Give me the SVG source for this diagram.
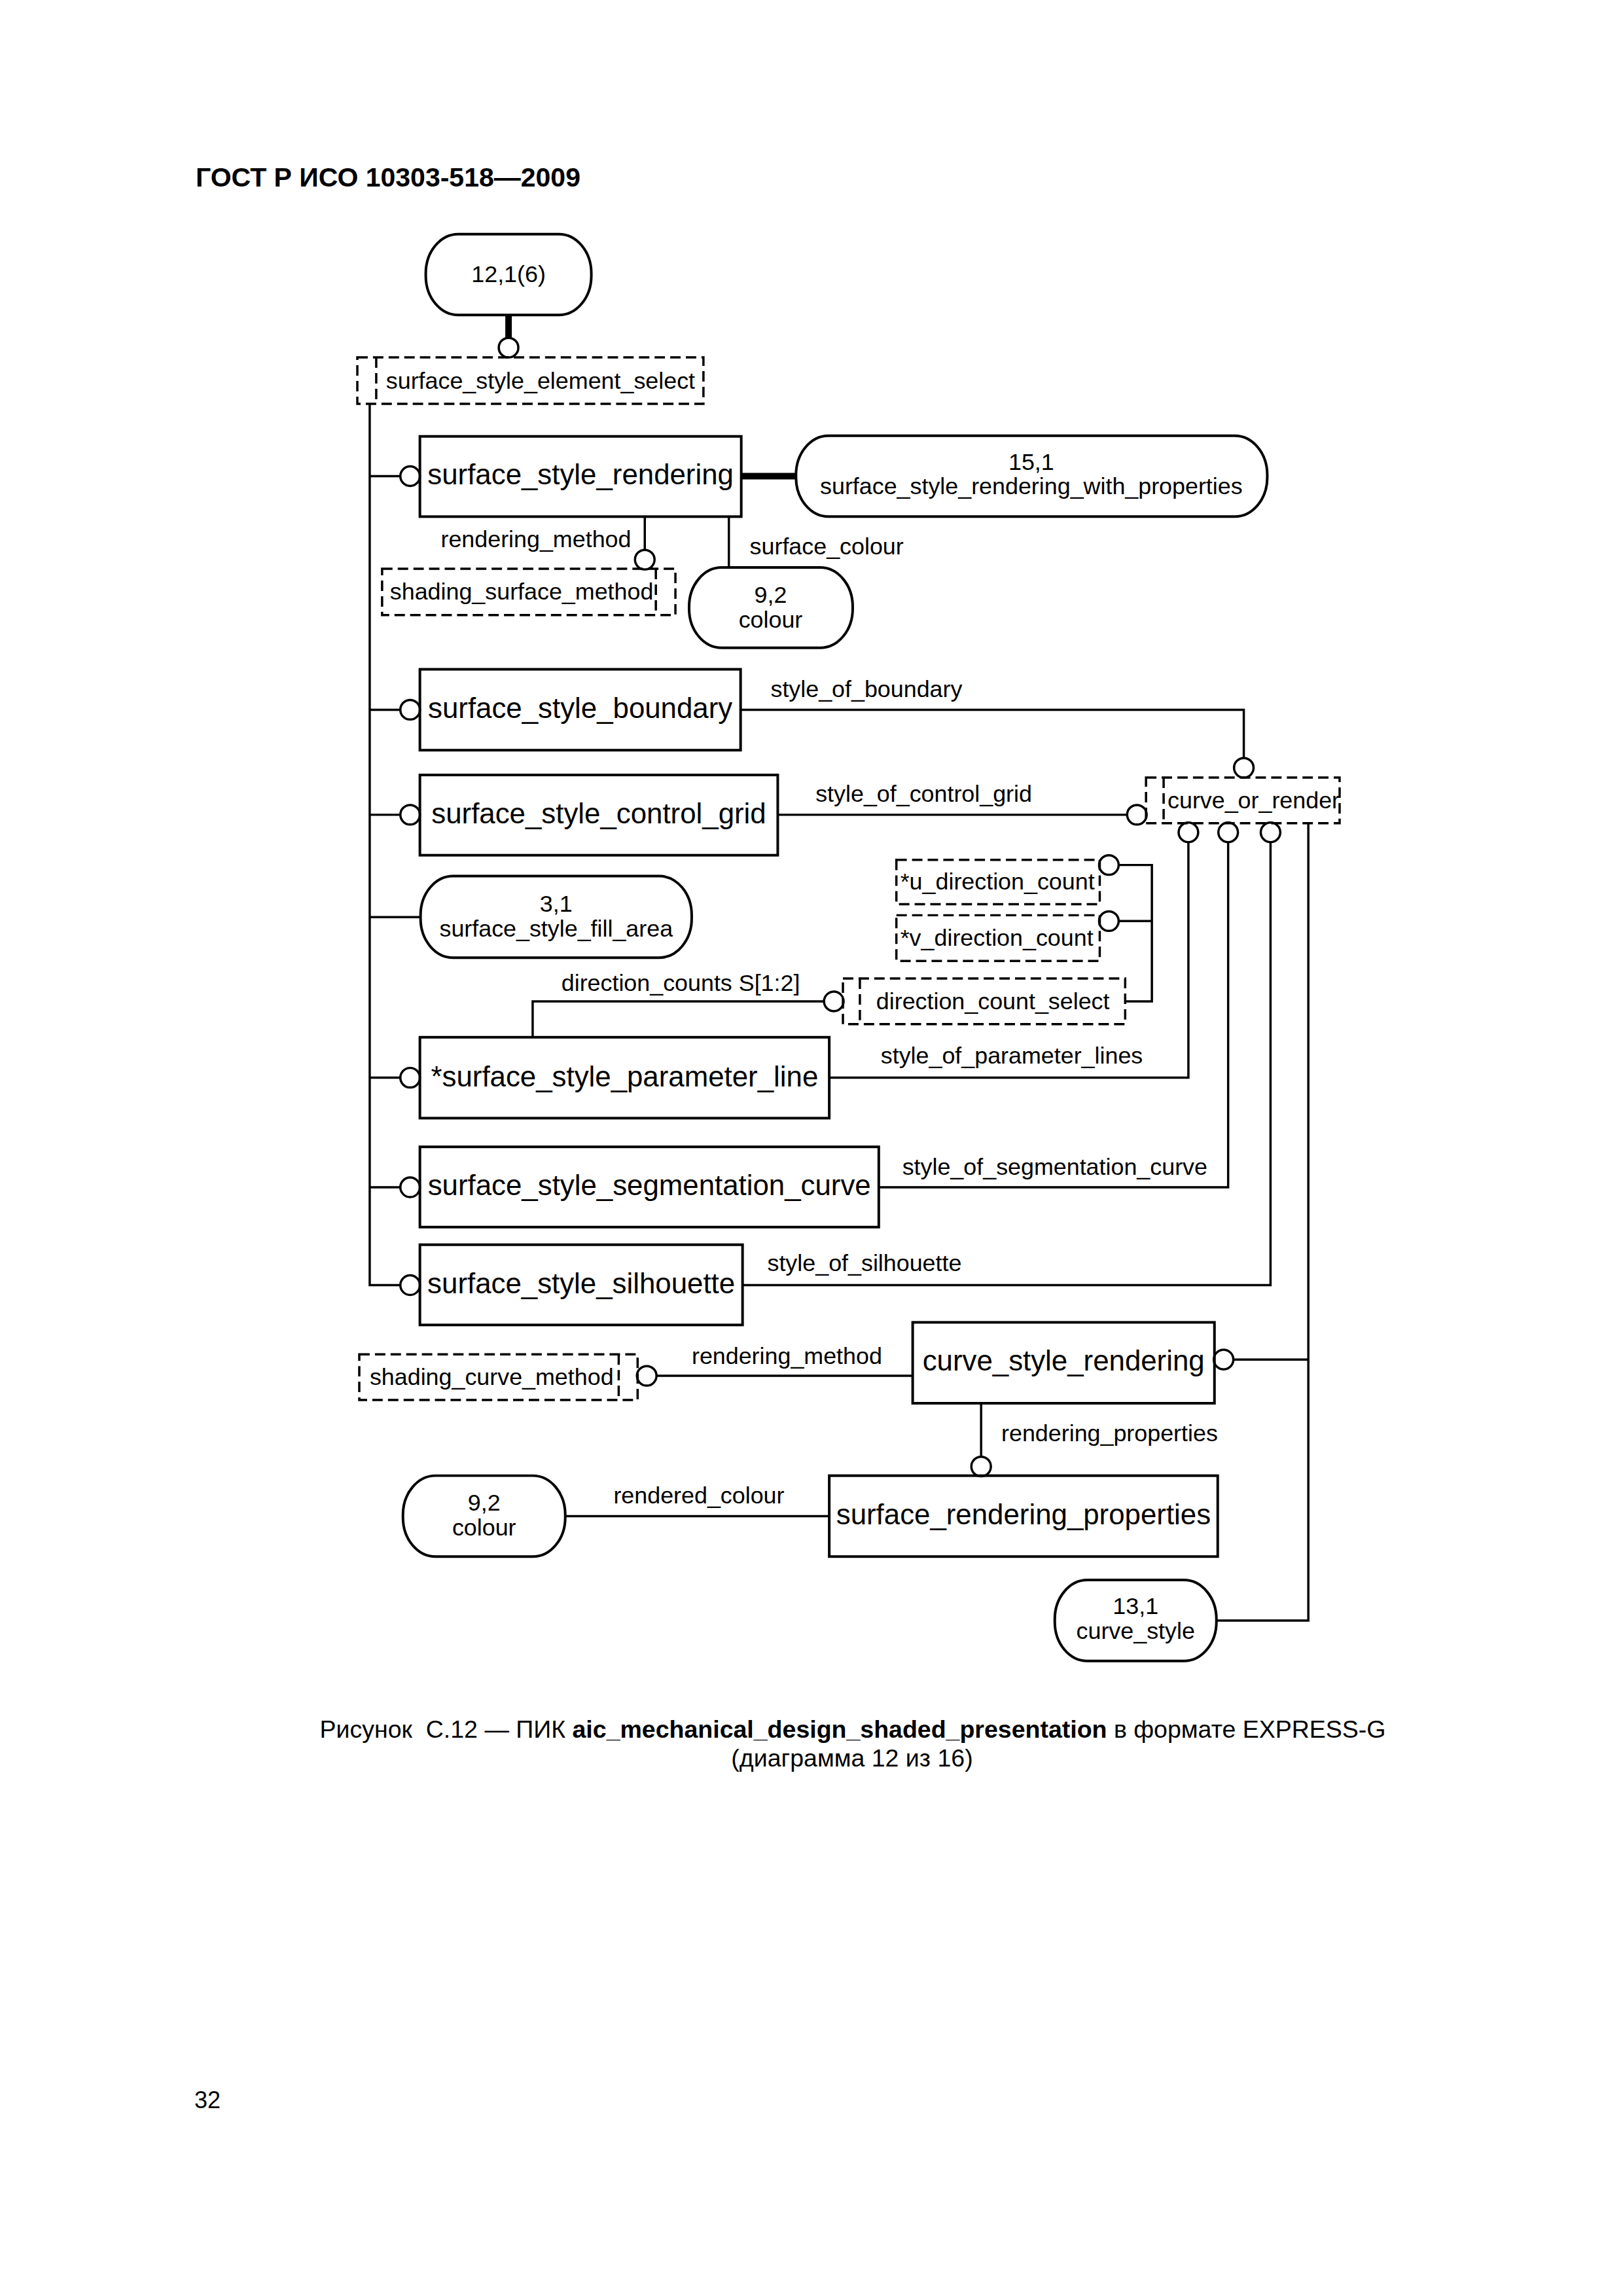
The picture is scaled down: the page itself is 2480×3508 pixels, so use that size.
<svg xmlns="http://www.w3.org/2000/svg" width="2480" height="3508" viewBox="0 0 2480 3508">
<style>
.box{fill:none;stroke:#000;stroke-width:4}
.ref{fill:none;stroke:#000;stroke-width:4}
.sel{fill:none;stroke:#000;stroke-width:3.5;stroke-dasharray:16 8}
.ln{fill:none;stroke:#000;stroke-width:3.5}
.thick{fill:none;stroke:#000;stroke-width:10}
.circ{fill:#fff;stroke:#000;stroke-width:3.5}
.ent{font-family:"Liberation Sans",Arial,sans-serif;font-size:44px;text-anchor:middle}
.lbl{font-family:"Liberation Sans",Arial,sans-serif;font-size:36px}
.cap{font-family:"Liberation Sans",Arial,sans-serif;font-size:37.5px;text-anchor:middle}
.mid{text-anchor:middle}
</style>
<rect width="2480" height="3508" fill="#fff"/>
<text x="299" y="285" font-family="Liberation Sans, Arial, sans-serif" font-size="41" font-weight="bold">ГОСТ Р ИСО 10303-518—2009</text>

<g id="diagram" transform="translate(299 270) scale(0.996 0.9968) translate(-299 -270)">
<g id="connectors">
<path class="thick" d="M779,482 V517"/>
<path class="ln" d="M566,618 V1969 H613"/>
<path class="ln" d="M566,729 H613 M566,1087 H613 M566,1248 H613 M566,1405 H644 M566,1651 H613 M566,1819 H613"/>
<path class="thick" d="M1136,729 H1220"/>
<path class="ln" d="M988,791 V842"/>
<path class="ln" d="M1117,791 V869"/>
<path class="ln" d="M1135,1087 H1907 V1161"/>
<path class="ln" d="M1192,1248 H1729"/>
<path class="ln" d="M1822,1290 V1651 H1271"/>
<path class="ln" d="M1883,1290 V1819 H1347"/>
<path class="ln" d="M1948,1290 V1969 H1138"/>
<path class="ln" d="M2006,1261 V2483 H1865"/>
<path class="ln" d="M2006,2083 H1891"/>
<path class="ln" d="M1715,1325 H1766 V1534 H1725 M1715,1411 H1766"/>
<path class="ln" d="M1263,1534 H816 V1589"/>
<path class="ln" d="M1006,2108 H1399"/>
<path class="ln" d="M1504,2150 V2232"/>
<path class="ln" d="M866,2323 H1271"/>
<circle class="circ" cx="779" cy="532" r="15"/>
<circle class="circ" cx="628" cy="729" r="15"/>
<circle class="circ" cx="628" cy="1087" r="15"/>
<circle class="circ" cx="628" cy="1248" r="15"/>
<circle class="circ" cx="628" cy="1651" r="15"/>
<circle class="circ" cx="628" cy="1819" r="15"/>
<circle class="circ" cx="628" cy="1969" r="15"/>
<circle class="circ" cx="988" cy="857" r="15"/>
<circle class="circ" cx="1907" cy="1176" r="15"/>
<circle class="circ" cx="1743" cy="1248" r="15"/>
<circle class="circ" cx="1822" cy="1275" r="15"/>
<circle class="circ" cx="1883" cy="1275" r="15"/>
<circle class="circ" cx="1948" cy="1275" r="15"/>
<circle class="circ" cx="1700" cy="1325" r="15"/>
<circle class="circ" cx="1700" cy="1411" r="15"/>
<circle class="circ" cx="1278" cy="1534" r="15"/>
<circle class="circ" cx="1876" cy="2083" r="15"/>
<circle class="circ" cx="991" cy="2108" r="15"/>
<circle class="circ" cx="1504" cy="2247" r="15"/>
<text class="lbl" x="675" y="838">rendering_method</text>
<text class="lbl" x="1149" y="849">surface_colour</text>
<text class="lbl" x="1181" y="1068">style_of_boundary</text>
<text class="lbl" x="1250" y="1228">style_of_control_grid</text>
<text class="lbl" x="860" y="1518">direction_counts S[1:2]</text>
<text class="lbl" x="1350" y="1629">style_of_parameter_lines</text>
<text class="lbl" x="1383" y="1800">style_of_segmentation_curve</text>
<text class="lbl" x="1176" y="1947">style_of_silhouette</text>
<text class="lbl" x="1060" y="2090">rendering_method</text>
<text class="lbl" x="1535" y="2208">rendering_properties</text>
<text class="lbl" x="940" y="2304">rendered_colour</text>
</g>

<g id="ref_12_1_6">
<rect class="ref" x="652" y="358" width="254" height="124" rx="50" ry="60"/>
<text class="lbl mid" x="779" y="432">12,1(6)</text>
</g>
<g id="surface_style_element_select">
<rect class="sel" x="547" y="547" width="531" height="71"/>
<line class="sel" x1="576" y1="547" x2="576" y2="618"/>
<text class="lbl" x="591" y="595">surface_style_element_select</text>
</g>
<g id="surface_style_rendering">
<rect class="box" x="643" y="668" width="493" height="123"/>
<text class="ent" x="889.5" y="742">surface_style_rendering</text>
</g>
<g id="ref_15_1">
<rect class="ref" x="1220" y="667" width="723" height="124" rx="50" ry="60"/>
<text class="lbl mid" x="1581" y="719">15,1</text>
<text class="lbl mid" x="1581" y="757">surface_style_rendering_with_properties</text>
</g>
<g id="shading_surface_method">
<rect class="sel" x="585" y="871" width="450" height="71"/>
<line class="sel" x1="1005" y1="871" x2="1005" y2="942"/>
<text class="lbl" x="597" y="918">shading_surface_method</text>
</g>
<g id="ref_9_2_colour_a">
<rect class="ref" x="1056" y="869" width="251" height="123" rx="50" ry="60"/>
<text class="lbl mid" x="1181" y="923">9,2</text>
<text class="lbl mid" x="1181" y="961">colour</text>
</g>
<g id="surface_style_boundary">
<rect class="box" x="643" y="1025" width="492" height="124"/>
<text class="ent" x="889" y="1100">surface_style_boundary</text>
</g>
<g id="surface_style_control_grid">
<rect class="box" x="643" y="1187" width="549" height="123"/>
<text class="ent" x="917.5" y="1261">surface_style_control_grid</text>
</g>
<g id="curve_or_render">
<rect class="sel" x="1757" y="1191" width="297" height="70"/>
<line class="sel" x1="1784" y1="1191" x2="1784" y2="1261"/>
<text class="lbl" x="1790" y="1238">curve_or_render</text>
</g>
<g id="u_direction_count">
<rect class="sel" x="1374" y="1317" width="312" height="68"/>
<text class="lbl" x="1380" y="1363">*u_direction_count</text>
</g>
<g id="v_direction_count">
<rect class="sel" x="1374" y="1402" width="312" height="70"/>
<text class="lbl" x="1380" y="1449">*v_direction_count</text>
</g>
<g id="direction_count_select">
<rect class="sel" x="1292" y="1499" width="433" height="70"/>
<line class="sel" x1="1318" y1="1499" x2="1318" y2="1569"/>
<text class="lbl" x="1343" y="1546">direction_count_select</text>
</g>
<g id="ref_3_1_surface_style_fill_area">
<rect class="ref" x="644" y="1342" width="416" height="125" rx="50" ry="60"/>
<text class="lbl mid" x="852" y="1397">3,1</text>
<text class="lbl mid" x="852" y="1435">surface_style_fill_area</text>
</g>
<g id="surface_style_parameter_line">
<rect class="box" x="643" y="1589" width="628" height="124"/>
<text class="ent" x="957" y="1664">*surface_style_parameter_line</text>
</g>
<g id="surface_style_segmentation_curve">
<rect class="box" x="643" y="1757" width="704" height="123"/>
<text class="ent" x="995" y="1831">surface_style_segmentation_curve</text>
</g>
<g id="surface_style_silhouette">
<rect class="box" x="643" y="1907" width="495" height="123"/>
<text class="ent" x="890.5" y="1981">surface_style_silhouette</text>
</g>
<g id="curve_style_rendering">
<rect class="box" x="1399" y="2026" width="463" height="124"/>
<text class="ent" x="1630.5" y="2100">curve_style_rendering</text>
</g>
<g id="shading_curve_method">
<rect class="sel" x="550" y="2075" width="427" height="70"/>
<line class="sel" x1="948" y1="2075" x2="948" y2="2145"/>
<text class="lbl" x="566" y="2122">shading_curve_method</text>
</g>
<g id="surface_rendering_properties">
<rect class="box" x="1271" y="2261" width="596" height="124"/>
<text class="ent" x="1569" y="2336">surface_rendering_properties</text>
</g>
<g id="ref_9_2_colour_b">
<rect class="ref" x="617" y="2261" width="249" height="124" rx="50" ry="60"/>
<text class="lbl mid" x="741.5" y="2315">9,2</text>
<text class="lbl mid" x="741.5" y="2353">colour</text>
</g>
<g id="ref_13_1_curve_style">
<rect class="ref" x="1617" y="2421" width="248" height="124" rx="50" ry="60"/>
<text class="lbl mid" x="1741" y="2473">13,1</text>
<text class="lbl mid" x="1741" y="2511">curve_style</text>
</g>
</g>

<text class="cap" x="1303" y="2655">Рисунок&#160; С.12 — ПИК <tspan font-weight="bold">aic_mechanical_design_shaded_presentation</tspan> в формате EXPRESS-G</text>
<text class="cap" x="1302" y="2699">(диаграмма 12 из 16)</text>
<text class="lbl" x="297" y="3221">32</text>
</svg>
